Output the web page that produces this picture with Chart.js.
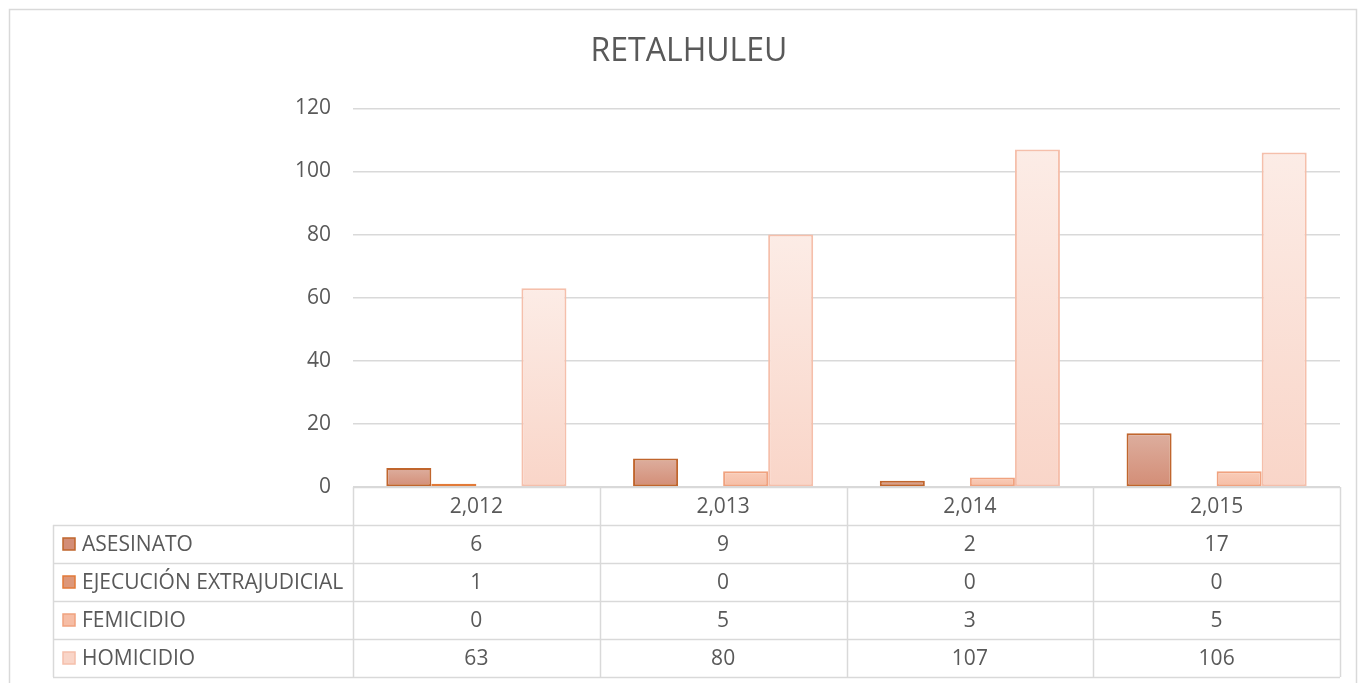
<!DOCTYPE html>
<html>
<head>
<meta charset="utf-8">
<script src="https://cdn.jsdelivr.net/npm/chart.js@4.4.1/dist/chart.umd.min.js"></script>
<style>
  html, body { margin: 0; padding: 0; background: #fff; }
  #wrap { width: 1359px; height: 683px; position: relative; }
</style>
</head>
<body>
<div id="wrap"><canvas id="chart" width="1359" height="683"></canvas></div>
<script>
// data
const years = ['2,012', '2,013', '2,014', '2,015'];
const asesinato = [6, 9, 2, 17];
const ejecucion = [1, 0, 0, 0];
const femicidio = [0, 5, 3, 5];
const homicidio = [63, 80, 107, 106];
const seriesNames = ['ASESINATO', 'EJECUCIÓN EXTRAJUDICIAL', 'FEMICIDIO', 'HOMICIDIO'];
const yTicks = [0, 20, 40, 60, 80, 100, 120];

// colours: [top of gradient, bottom of gradient, border]
const palette = [
    ['#ddae9e', '#d38d76', '#c0652d'],
    ['#e6ae96', '#dd9779', '#e27a38'],
    ['#f9cdb9', '#f6bda5', '#f0a27f'],
    ['#fcece6', '#f9d5c8', '#f5bfab']
];

const textColor = '#595959';
const lineColor = '#d9d9d9';
const font = "'Open Sans', sans-serif";

function barFill(i) {
    return function (ctx) {
        const chart = ctx.chart;
        const y = chart.scales.y;
        if (!y || !ctx.parsed) return palette[i][1];
        const top = y.getPixelForValue(ctx.parsed.y);
        const bottom = y.getPixelForValue(0);
        if (!isFinite(top) || !isFinite(bottom) || bottom - top < 1) return palette[i][1];
        const g = chart.ctx.createLinearGradient(0, top, 0, bottom);
        g.addColorStop(0, palette[i][0]);
        g.addColorStop(1, palette[i][1]);
        return g;
    };
}

const allSeries = [asesinato, ejecucion, femicidio, homicidio];
const datasets = allSeries.map(function (vals, i) {
    return {
        label: seriesNames[i],
        data: vals,
        backgroundColor: barFill(i),
        borderColor: palette[i][2],
        borderWidth: function (ctx) { return ctx.raw === 0 ? 0 : 2; },
        borderSkipped: false
    };
});

// draws the outer frame and the data table under the plot
const tablePlugin = {
    id: 'dataTable',
    beforeDraw(chart) {
        const c = chart.ctx;
        c.save();
        c.fillStyle = '#fff';
        c.fillRect(0, 0, chart.width, chart.height);
        c.strokeStyle = lineColor;
        c.lineWidth = 1.5;
        c.strokeRect(9.5, 9.5, chart.width - 12, chart.height + 20);
        c.restore();
    },
    afterDraw(chart) {
        const c = chart.ctx;
        const x = chart.scales.x;
        const area = chart.chartArea;
        const rowH = 38;
        const top = area.bottom;
        const left = 53;
        const colW = x.getPixelForValue(1) - x.getPixelForValue(0);
        const cols = years.map(function (_, k) { return x.getPixelForValue(k) - colW / 2; });
        cols.push(area.right);

        c.save();
        c.strokeStyle = lineColor;
        c.lineWidth = 1.5;
        // horizontal lines
        for (let r = 0; r <= 5; r++) {
            const yy = Math.round(top + r * rowH) + 0.5;
            c.beginPath();
            c.moveTo(r === 0 ? area.left : left, yy);
            c.lineTo(area.right, yy);
            c.stroke();
        }
        // vertical lines
        cols.forEach(function (cx) {
            c.beginPath();
            c.moveTo(Math.round(cx) + 0.5, top);
            c.lineTo(Math.round(cx) + 0.5, top + 5 * rowH);
            c.stroke();
        });
        c.beginPath();
        c.moveTo(left + 0.5, top + rowH);
        c.lineTo(left + 0.5, top + 5 * rowH);
        c.stroke();

        c.fillStyle = textColor;
        c.font = '21px ' + font;
        c.textBaseline = 'middle';
        c.textAlign = 'center';
        years.forEach(function (yr, k) {
            c.fillText(yr, x.getPixelForValue(k), top + rowH / 2 + 1);
        });
        allSeries.forEach(function (vals, i) {
            const cy = top + (i + 1) * rowH + rowH / 2 + 1;
            c.textAlign = 'center';
            c.fillStyle = textColor;
            vals.forEach(function (v, k) {
                c.fillText(String(v), x.getPixelForValue(k), cy);
            });
            // legend key
            c.fillStyle = palette[i][1];
            c.fillRect(63, cy - 7, 12, 12);
            c.strokeStyle = palette[i][2];
            c.lineWidth = 1.5;
            c.strokeRect(63, cy - 7, 12, 12);
            c.fillStyle = textColor;
            c.textAlign = 'left';
            c.fillText(seriesNames[i], 82, cy);
        });
        c.restore();
    }
};

new Chart(document.getElementById('chart'), {
    type: 'bar',
    data: { labels: years, datasets: datasets },
    options: {
        responsive: false,
        animation: false,
        layout: { padding: { top: 33, right: 19, bottom: 6, left: 38 } },
        datasets: { bar: { categoryPercentage: 0.73, barPercentage: 1.0 } },
        plugins: {
            legend: { display: false },
            tooltip: { enabled: false },
            title: {
                display: true,
                text: 'RETALHULEU',
                color: textColor,
                font: { family: font, size: 32, weight: 'normal' },
                padding: { top: 0, bottom: 37 }
            }
        },
        scales: {
            x: {
                grid: { display: false },
                border: { display: false },
                ticks: { display: false },
                afterFit: function (s) { s.height = 190; }
            },
            y: {
                min: 0,
                max: 120,
                afterBuildTicks: function (s) { s.ticks = yTicks.map(function (v) { return { value: v }; }); },
                afterFit: function (s) { s.width = 315; },
                grid: { color: lineColor, lineWidth: 1.5, drawTicks: false },
                border: { display: false },
                ticks: {
                    color: textColor,
                    padding: 22,
                    font: { family: font, size: 21 }
                }
            }
        }
    },
    plugins: [tablePlugin]
});
</script>
</body>
</html>
